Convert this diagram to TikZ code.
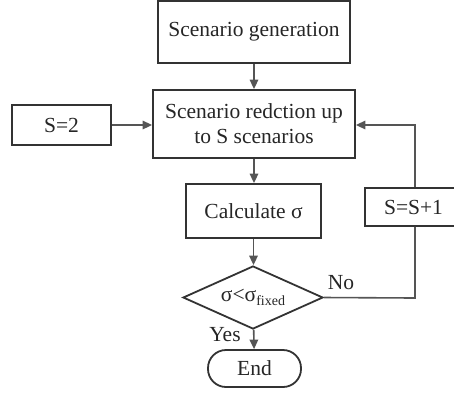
\documentclass[tikz,border=0pt]{standalone}
\usepackage{fontspec}
\setmainfont{Liberation Serif}
\usetikzlibrary{arrows.meta,shapes.geometric}
\definecolor{boxc}{HTML}{333333}
\definecolor{linec}{HTML}{555555}
\definecolor{txtc}{HTML}{262626}
\begin{document}
\begin{tikzpicture}[x=1pt,y=-1pt,
  every node/.style={text=txtc,font=\fontsize{21.5}{25}\selectfont},
  procbox/.style={draw=boxc,line width=1.8pt,rectangle,inner sep=0pt,align=center},
  decbox/.style={draw=boxc,line width=1.8pt,diamond,aspect=2.2,inner sep=0pt,minimum width=140pt,minimum height=63pt},
  endbox/.style={draw=boxc,line width=1.8pt,rectangle,rounded corners=18pt,inner sep=0pt,minimum width=93pt,minimum height=37pt},
  conn/.style={draw=linec,line width=1.6pt},
  arr/.style={conn,-{Triangle[length=9.5pt,width=8.5pt]}},
  lab/.style={inner sep=0pt}]
\useasboundingbox (0,0) rectangle (454,392);
\fill[white] (0,0) rectangle (454,392);
\node[procbox,minimum width=192pt,minimum height=62pt] (gen) at (254,32) {Scenario generation};
\node[procbox,minimum width=202pt,minimum height=68pt] (red) at (254,124) {Scenario redction up\\to S scenarios};
\node[procbox,minimum width=99pt,minimum height=40pt] (s2) at (61.5,125) {S=2};
\node[procbox,minimum width=135pt,minimum height=54pt] (calc) at (253.5,211) {Calculate σ};
\node[procbox,minimum width=92pt,minimum height=38pt] (inc) at (411,207) {\hspace*{5pt}S=S+1};
\node[decbox] (dec) at (253,297.5) {σ<σ\raisebox{-0.45ex}{\fontsize{14}{16}\selectfont fixed}};
\node[endbox] (endn) at (254.5,368.5) {End};
\coordinate (turn) at (415,298);
\coordinate (up) at (415,125);
\draw[arr] (gen) -- (red);
\draw[arr] (s2) -- (s2 -| red.west);
\draw[arr] (red) -- (red |- calc.north);
\draw[arr] (calc) -- (calc |- dec.north);
\draw[arr] (dec) -- (endn);
\draw[conn] (dec.east) -- (turn) -- (inc.south -| turn);
\draw[arr] (inc.north -| turn) -- (up) -- (up -| red.east);
\node[lab] (no) at (341,283) {No};
\node[lab] (yes) at (225,335) {Yes};
\end{tikzpicture}
\end{document}
